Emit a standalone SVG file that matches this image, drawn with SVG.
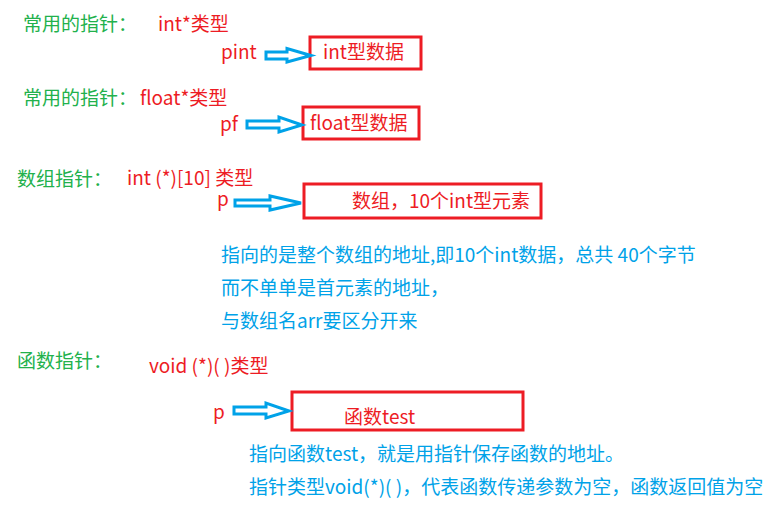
<svg xmlns="http://www.w3.org/2000/svg" width="774" height="506" viewBox="0 0 774 506">
<style>
text{font-family:"Noto Sans CJK SC","Microsoft YaHei",sans-serif;font-size:19px}
.g{fill:#22b14c}
.r{fill:#ed1c24}
.b{fill:#00a2e8}
.box{fill:none;stroke:#ed1c24;stroke-width:3}
.arr{fill:#fff;stroke:#00a2e8;stroke-width:3;stroke-linejoin:miter}
</style>
<rect width="774" height="506" fill="#fff"/>
<g id="sec1">
<text class="g" x="23" y="31">常用的指针：</text>
<text class="r" x="158" y="31">int*类型</text>
<text class="r" x="221" y="59">pint</text>
</g>
<g id="node-int"><rect class="box" x="310" y="37" width="111" height="32"/><text class="r" x="323" y="59">int型数据</text></g>
<g id="sec2">
<text class="g" x="23" y="105">常用的指针：</text>
<text class="r" x="140" y="105">float*类型</text>
<text class="r" x="220" y="131">pf</text>
</g>
<g id="node-float"><rect class="box" x="303" y="107" width="116" height="32"/><text class="r" x="310" y="130">float型数据</text></g>
<g id="sec3">
<text class="g" x="17" y="186">数组指针：</text>
<text class="r" x="127" y="185">int (*)[10] 类型</text>
<text class="r" x="217" y="206">p</text>
<text class="b" x="221" y="262">指向的是整个数组的地址,即10个int数据，总共 40个字节</text>
<text class="b" x="221" y="295">而不单单是首元素的地址，</text>
<text class="b" x="221" y="328">与数组名arr要区分开来</text>
</g>
<g id="node-array"><rect class="box" x="304" y="184" width="237" height="34"/><text class="r" x="352" y="208">数组，10个int型元素</text></g>
<g id="sec4">
<text class="g" x="17" y="368">函数指针：</text>
<text class="r" x="149" y="373">void (*)( )类型</text>
<text class="r" x="213" y="419">p</text>
<text class="b" x="249" y="461">指向函数test，就是用指针保存函数的地址。</text>
<text class="b" x="249" y="494">指针类型void(*)( )，代表函数传递参数为空，函数返回值为空</text>
</g>
<g id="node-func"><rect class="box" x="292" y="392" width="231" height="38"/><text class="r" x="344" y="424">函数test</text></g>
<g id="connectors">
<path class="arr" d="M266,52 H287 V48.5 L311,55.5 L287,62 V59 H266 Z"/>
<path class="arr" d="M247,121 H279 V117 L302,125 L279,132 V128 H247 Z"/>
<path class="arr" d="M235,200 H270 V196 L301,203 L270,210 V206 H235 Z"/>
<path class="arr" d="M234,407 H266 V403 L289,411 L266,418 V414 H234 Z"/>
</g>
</svg>
